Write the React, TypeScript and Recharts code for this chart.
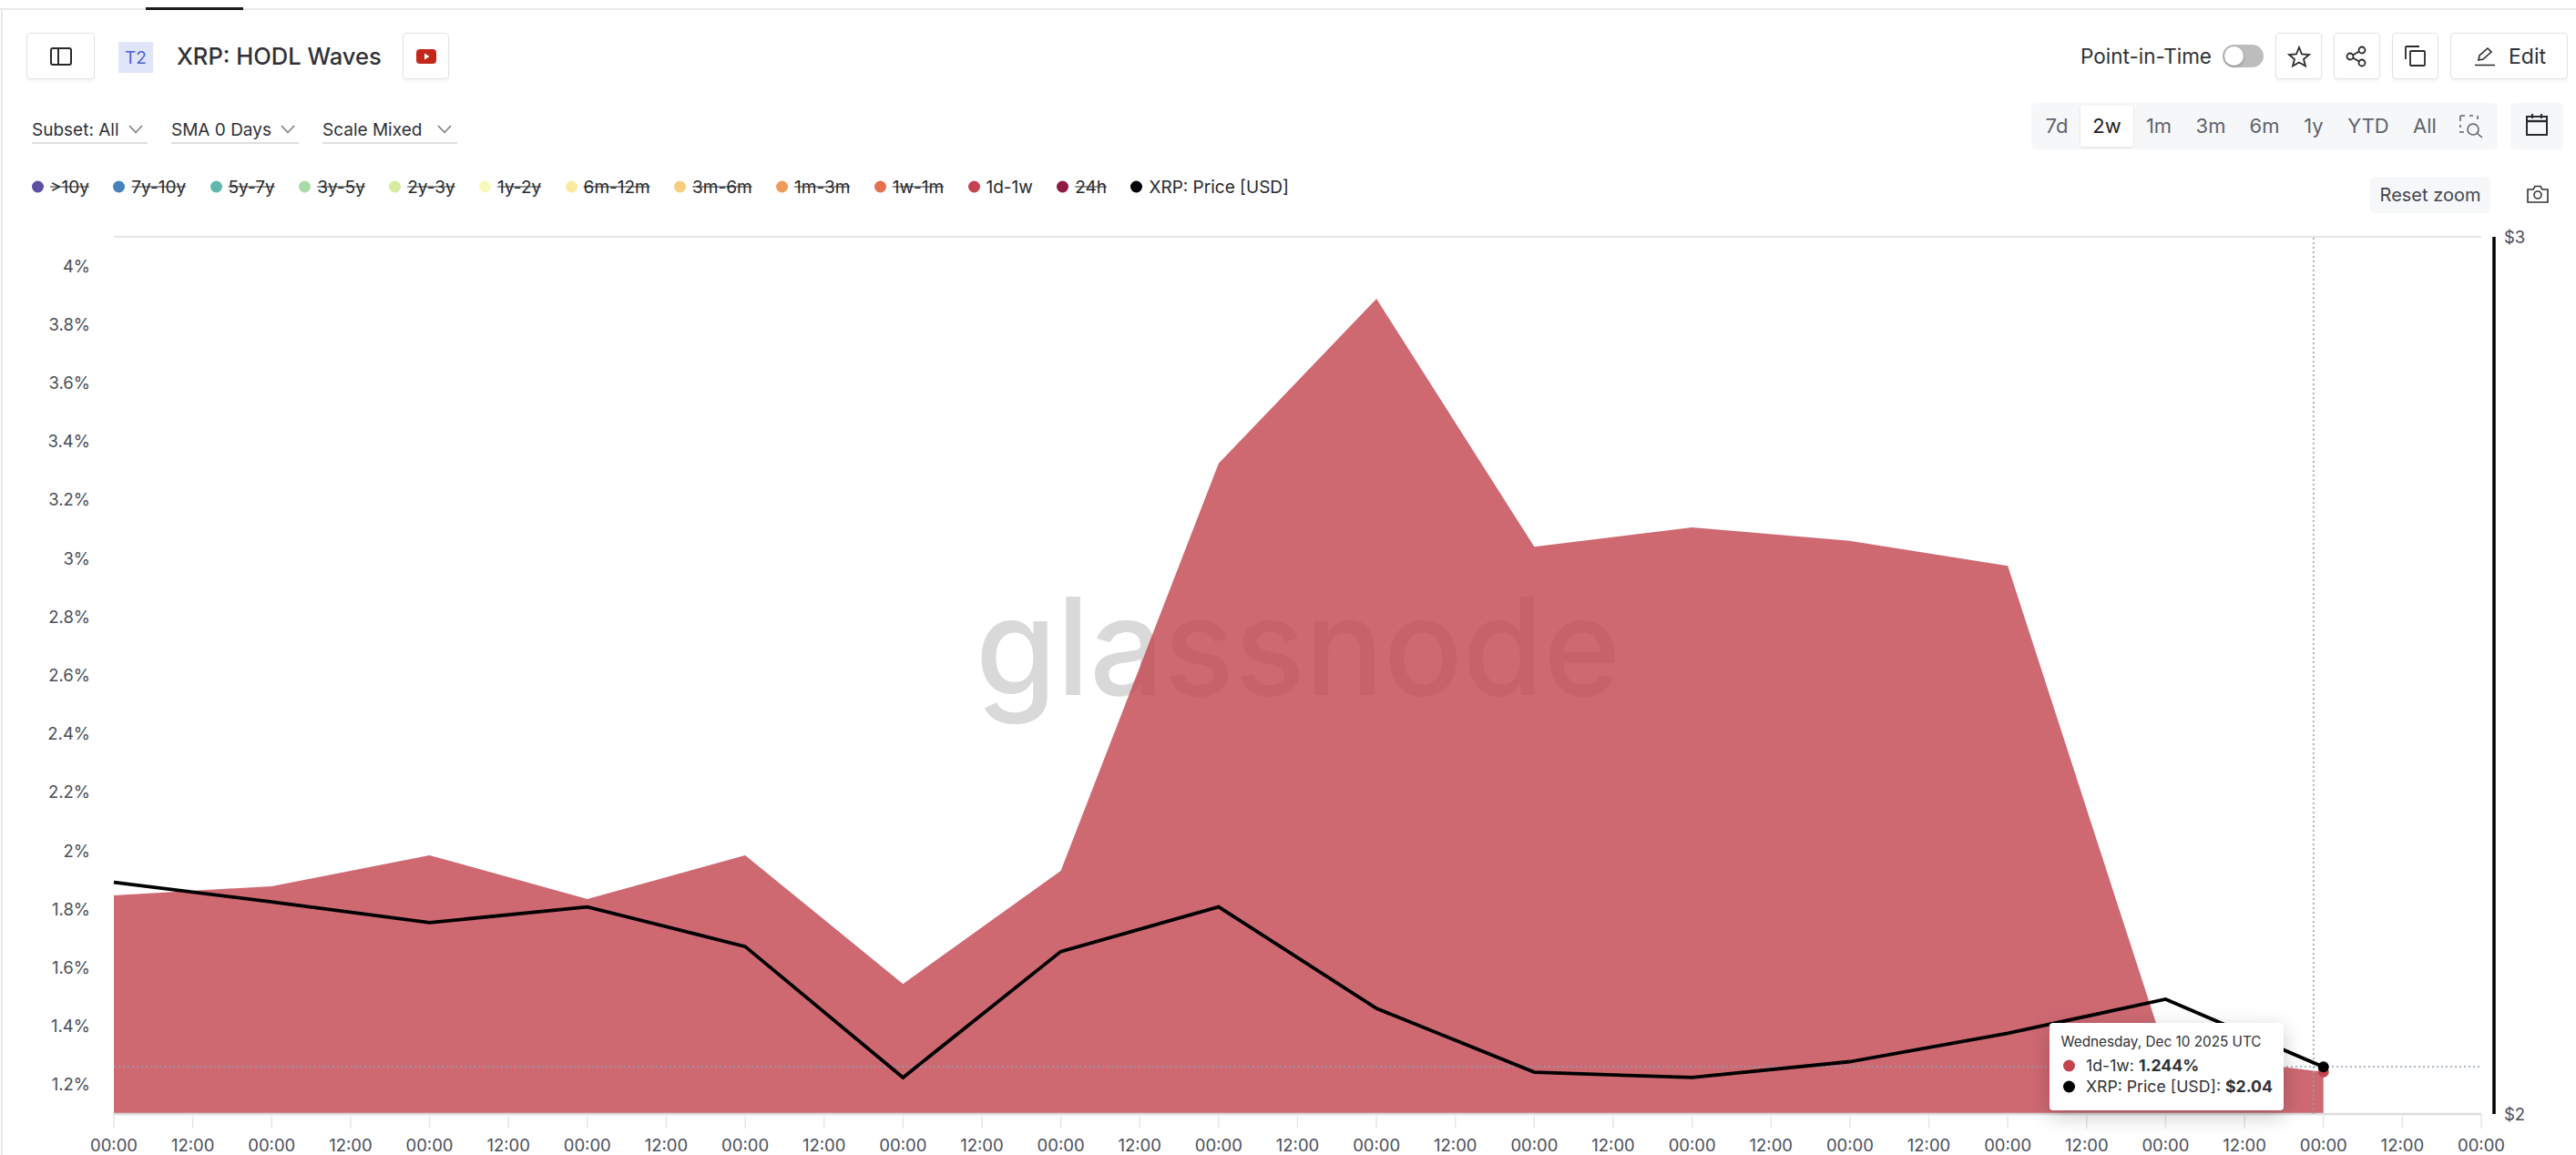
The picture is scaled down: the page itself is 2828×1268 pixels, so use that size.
import type { CSSProperties, ReactNode } from "react";
import {
  Area,
  ComposedChart,
  Line,
  ReferenceDot,
  ReferenceLine,
  XAxis,
  YAxis,
} from "recharts";

// hours since the first sample (Nov 26 2025 00:00 UTC), one sample a day
const hours = [0, 24, 48, 72, 96, 120, 144, 168, 192, 216, 240, 264, 288, 312, 336];
const wave1d1w = [1.848, 1.879, 1.985, 1.835, 1.985, 1.545, 1.932, 3.325, 3.888, 3.04, 3.106, 3.06, 2.975, 1.31, 1.244];
const xrpPrice = [2.226, 2.206, 2.185, 2.201, 2.161, 2.034, 2.156, 2.201, 2.1, 2.039, 2.034, 2.049, 2.076, 2.109, 2.044];

const xTicks = [0, 12, 24, 36, 48, 60, 72, 84, 96, 108, 120, 132, 144, 156, 168, 180, 192, 204, 216, 228, 240, 252, 264, 276, 288, 300, 312, 324, 336, 348, 360];
const waveTicks = [1.2, 1.4, 1.6, 1.8, 2, 2.2, 2.4, 2.6, 2.8, 3, 3.2, 3.4, 3.6, 3.8, 4];
const priceTicks = [2, 3];

const legendLabels = [">10y", "7y-10y", "5y-7y", "3y-5y", "2y-3y", "1y-2y", "6m-12m", "3m-6m", "1m-3m", "1w-1m", "1d-1w", "24h", "XRP: Price [USD]"];
const legendShown = ["1d-1w", "XRP: Price [USD]"];
const rangeLabels = ["7d", "2w", "1m", "3m", "6m", "1y", "YTD", "All"];

const LEGEND_COLORS = ["#5e4fa2", "#4682bb", "#5fb8ab", "#a8dba8", "#d5eca0", "#f7fabb", "#f9eca0", "#f9cc7f", "#f09a5a", "#e4704f", "#c2444f", "#8f1a43", "#000000"];
const RANGE_CENTERS = [2258, 2313, 2370, 2427, 2486, 2540, 2600, 2662];

const FONT = "Inter, sans-serif";
const TEXT = "#2f3136";
const AXIS_TEXT = "#4a4e5a";
const GRID = "#e6e6e6";
const CROSS = "#8f9fb0";

const data = hours.map((t, i) => ({ t, wave: wave1d1w[i], price: xrpPrice[i] }));
const last = data[data.length - 1];

function Txt({ x, y, size, color = TEXT, weight = 400, center, children, style }: {
  x: number; y: number; size: number; color?: string; weight?: number; center?: boolean; children: ReactNode; style?: CSSProperties;
}) {
  return (
    <div
      style={{
        position: "absolute", left: x, top: y, fontSize: size, color, fontWeight: weight, lineHeight: 1, whiteSpace: "nowrap",
        transform: center ? "translate(-50%, -50%)" : "translateY(-50%)", ...style,
      }}
    >
      {children}
    </div>
  );
}

function Btn({ x, w, children }: { x: number; w: number; children?: ReactNode }) {
  return (
    <div
      style={{
        position: "absolute", left: x, top: 36, width: w, height: 51, boxSizing: "border-box", border: "1.5px solid #e2e2e2",
        borderRadius: 4, boxShadow: "0 3px 2px rgba(0,0,0,0.03)", background: "#fff",
      }}
    >
      {children}
    </div>
  );
}

function Icon({ x, y, w, h, children, color = "#2a2a2a", width = 2 }: {
  x: number; y: number; w: number; h: number; children: ReactNode; color?: string; width?: number;
}) {
  return (
    <svg
      width={w} height={h} viewBox={`0 0 ${w} ${h}`} fill="none" stroke={color} strokeWidth={width}
      style={{ position: "absolute", left: x - w / 2, top: y - h / 2 }}
    >
      {children}
    </svg>
  );
}

function Dropdown({ label, x, chevron, end }: { label: string; x: number; chevron: number; end: number }) {
  return (
    <>
      <Txt x={x} y={142} size={19}>{label}</Txt>
      <Icon x={chevron} y={142} w={16} h={10} color="#777" width={1.5}><path d="M1 1 L8 8.5 L15 1" /></Icon>
      <div style={{ position: "absolute", left: x, top: 156, width: end - x, height: 2, background: "#dedede" }} />
    </>
  );
}

function Header() {
  return (
    <>
      <div style={{ position: "absolute", left: 0, top: 9, width: 2828, height: 2, background: "#e8e8e8" }} />
      <div style={{ position: "absolute", left: 160, top: 8, width: 107, height: 3, background: "#1a1a1a" }} />
      <div style={{ position: "absolute", left: 1, top: 10, width: 2, height: 1258, background: "#e8e8e8" }} />

      <Btn x={29} w={75} />
      <Icon x={66.5} y={62} w={24} h={20}><rect x={1} y={1} width={22} height={18} rx={2} /><path d="M9 1 V19" /></Icon>
      <div style={{ position: "absolute", left: 130, top: 46, width: 38, height: 34, background: "#e0e5fa" }} />
      <Txt x={149} y={63} size={19} color="#4a5ed8" center>T2</Txt>
      <Txt x={194} y={62} size={25.5} weight={500}>XRP: HODL Waves</Txt>
      <Btn x={442} w={51} />
      <Icon x={468} y={62} w={22} h={16} color="none">
        <rect x={0} y={0} width={22} height={16} rx={4} fill="#c4281c" />
        <path d="M9 4.5 L14.5 8 L9 11.5 Z" fill="#fff" />
      </Icon>

      <Dropdown label="Subset: All" x={35} chevron={149} end={162} />
      <Dropdown label="SMA 0 Days" x={188} chevron={316} end={328} />
      <Dropdown label="Scale Mixed" x={354} chevron={488} end={502} />

      <div style={{ position: "absolute", left: 35, top: 205, display: "flex", alignItems: "center", gap: 26.4, transform: "translateY(-50%)" }}>
        {legendLabels.map((label, i) => (
          <div key={label} style={{ display: "flex", alignItems: "center", gap: 7 }}>
            <span style={{ width: 13, height: 13, borderRadius: "50%", background: LEGEND_COLORS[i] }} />
            <span
              style={{
                fontSize: 19, lineHeight: 1, color: "#26282c", whiteSpace: "nowrap",
                textDecoration: legendShown.includes(label) ? "none" : "line-through",
              }}
            >
              {label}
            </span>
          </div>
        ))}
      </div>

      <Txt x={2284} y={62} size={22.5}>Point-in-Time</Txt>
      <div style={{ position: "absolute", left: 2440, top: 49, width: 45, height: 25, borderRadius: 13, background: "#bdbdbd" }} />
      <div style={{ position: "absolute", left: 2442, top: 51, width: 21, height: 21, borderRadius: "50%", background: "#fff", boxShadow: "0 1px 3px rgba(0,0,0,0.35)" }} />

      <Btn x={2498} w={51} />
      <Icon x={2524} y={62} w={26} h={24} width={1.8}><path d="M13 2 L16 9.5 L24 10 L18 15 L20 22.5 L13 18.5 L6 22.5 L8 15 L2 10 L10 9.5 Z" /></Icon>
      <Btn x={2562} w={51} />
      <Icon x={2587} y={62} w={24} h={24} width={1.8}>
        <circle cx={5} cy={12} r={3.5} /><circle cx={18} cy={5} r={3.5} /><circle cx={18} cy={19} r={3.5} />
        <path d="M8 10.5 L15 6.5 M8 13.5 L15 17.5" />
      </Icon>
      <Btn x={2626} w={51} />
      <Icon x={2652} y={62} w={24} h={24} width={1.8}><rect x={6} y={6} width={16} height={16} rx={1} /><path d="M1 15 V2 Q1 1 2 1 H16" /></Icon>
      <Btn x={2690} w={129} />
      <Icon x={2728} y={62} w={24} h={22} width={1.6}><path d="M5 15 L6 10 L15 2 L19 6 L10 14 Z M1 20.5 H23" /></Icon>
      <Txt x={2754} y={62} size={23}>Edit</Txt>

      <div style={{ position: "absolute", left: 2230, top: 113, width: 512, height: 51, borderRadius: 5, background: "#f6f7f9" }} />
      <div style={{ position: "absolute", left: 2284, top: 116, width: 58, height: 45, borderRadius: 3, background: "#fff", boxShadow: "0 1px 3px rgba(0,0,0,0.1)" }} />
      {rangeLabels.map((label, i) => (
        <Txt key={label} x={RANGE_CENTERS[i]} y={138} size={22} color={label === "2w" ? "#1c1c1c" : "#5f636b"} center>{label}</Txt>
      ))}
      <Icon x={2713} y={139} w={26} h={26} color="#5f636b" width={1.6}>
        <path d="M1 7 V2 Q1 1 2 1 H6 M11 1 H15 M20 1 Q20 1 20 2 V5 M1 11 V14 M1 18 V19 H5" />
        <circle cx={15} cy={16} r={6} /><path d="M19.5 20.5 L25 25" />
      </Icon>
      <div style={{ position: "absolute", left: 2756, top: 113, width: 58, height: 51, borderRadius: 5, background: "#f6f7f9" }} />
      <Icon x={2785} y={137} w={24} h={24}><rect x={1} y={3} width={22} height={20} /><path d="M1 8 H23" strokeWidth={2.4} /><path d="M7 0 V5 M17 0 V5" /></Icon>

      <div style={{ position: "absolute", left: 2602, top: 194, width: 132, height: 40, borderRadius: 6, background: "#f6f7f9" }} />
      <Txt x={2668} y={214} size={20} color="#44474f" center>Reset zoom</Txt>
      <Icon x={2786} y={213} w={24} h={20} color="#333" width={1.6}>
        <path d="M1 5 H7 L9 1.5 H15 L17 5 H23 V19 H1 Z" /><circle cx={12} cy={11} r={4} />
      </Icon>
    </>
  );
}

function Watermark() {
  return (
    <svg width={2828} height={1268} style={{ position: "absolute", left: 0, top: 0 }}>
      <text x={1071} y={763} fontFamily={FONT} fontSize={148} fontWeight={500} fill="#d9d9d9" textLength={708} lengthAdjust="spacingAndGlyphs">
        glassnode
      </text>
    </svg>
  );
}

function ChartTooltip() {
  const dot = (color: string): CSSProperties => ({ position: "absolute", left: 2271 - 2250 - 6.5, width: 13, height: 13, borderRadius: "50%", background: color, transform: "translateY(-50%)" });
  return (
    <div style={{ position: "absolute", left: 2250, top: 1123, width: 257, height: 96, borderRadius: 4, background: "#fff", boxShadow: "0 6px 22px rgba(0,0,0,0.22)", color: TEXT }}>
      <Txt x={12.5} y={21} size={15.3}>Wednesday, Dec 10 2025 UTC</Txt>
      <div style={{ ...dot("#c2444f"), top: 47 }} />
      <Txt x={40} y={47} size={17.7}>1d-1w: <b>1.244%</b></Txt>
      <div style={{ ...dot("#000"), top: 70 }} />
      <Txt x={40} y={70} size={17.7}>XRP: Price [USD]: <b>$2.04</b></Txt>
    </div>
  );
}

export default function App() {
  const tickStyle = { fill: AXIS_TEXT, fontSize: 18.5, fontFamily: FONT };
  return (
    <div style={{ position: "absolute", left: 0, top: 0, width: 2828, height: 1268, background: "#fff", overflow: "hidden", fontFamily: FONT }}>
      <Header />
      <Watermark />
      <div style={{ position: "absolute", left: 0, top: 0 }}>
        <ComposedChart width={2828} height={1268} data={data} margin={{ top: 260, right: 10, bottom: 0, left: 25 }}>
          <XAxis
            dataKey="t"
            type="number"
            domain={[0, 360]}
            ticks={xTicks}
            interval={0}
            padding={{ left: 0, right: 14 }}
            height={45}
            axisLine={false}
            tickSize={16}
            tickMargin={12}
            tickLine={{ stroke: GRID, strokeWidth: 1.5 }}
            tick={tickStyle}
            tickFormatter={(v: number) => (v % 24 === 0 ? "00:00" : "12:00")}
          />
          <YAxis
            yAxisId="wave"
            width={100}
            domain={[1.1, 4.1]}
            ticks={waveTicks}
            interval={0}
            axisLine={false}
            tickLine={false}
            tickSize={0}
            tickMargin={26}
            tick={tickStyle}
            tickFormatter={(v: number) => `${v}%`}
          />
          <YAxis
            yAxisId="price"
            orientation="right"
            width={80}
            scale="log"
            domain={[2, 3]}
            ticks={priceTicks}
            interval={0}
            tickLine={false}
            tickSize={0}
            tickMargin={11}
            axisLine={{ stroke: "#000", strokeWidth: 3.5 }}
            tick={tickStyle}
            tickFormatter={(v: number) => `$${v}`}
          />
          <Area
            yAxisId="wave"
            dataKey="wave"
            type="linear"
            stroke="none"
            fill="#c2444f"
            fillOpacity={0.8}
            isAnimationActive={false}
          />
          <ReferenceLine yAxisId="wave" segment={[{ x: 0, y: 4.1 }, { x: 360, y: 4.1 }]} stroke={GRID} strokeWidth={2} />
          <ReferenceLine yAxisId="wave" segment={[{ x: 0, y: 1.1 }, { x: 360, y: 1.1 }]} stroke="#dcdcdc" strokeWidth={2.5} />
          <ReferenceLine yAxisId="wave" x={334.5} stroke={CROSS} strokeWidth={1.5} strokeDasharray="2 3" />
          <ReferenceLine yAxisId="wave" segment={[{ x: 0, y: 1.262 }, { x: 360, y: 1.262 }]} stroke={CROSS} strokeWidth={1.5} strokeDasharray="2 3" />
          <Line
            yAxisId="price"
            dataKey="price"
            type="linear"
            stroke="#000"
            strokeWidth={3.8}
            dot={false}
            isAnimationActive={false}
          />
          <ReferenceDot yAxisId="wave" x={last.t} y={last.wave} r={6} fill="#c2444f" stroke="none" />
          <ReferenceDot yAxisId="price" x={last.t} y={last.price} r={6} fill="#000" stroke="none" />
        </ComposedChart>
      </div>
      <ChartTooltip />
    </div>
  );
}
